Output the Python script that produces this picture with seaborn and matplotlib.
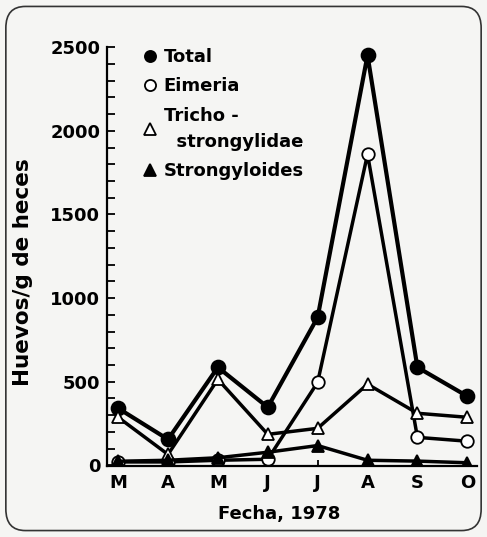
import matplotlib

matplotlib.use("Agg")
import matplotlib.pyplot as plt
from matplotlib.patches import FancyBboxPatch
from matplotlib.ticker import MultipleLocator
import numpy as np
import pandas as pd
import seaborn as sns

# months of sampling, 1978
months = ["M", "A", "M", "J", "J", "A", "S", "O"]
total = [341, 155, 586, 347, 885, 2452, 586, 413]
eimeria = [20, 20, 30, 36, 496, 1860, 167, 144]
tricho = [287, 65, 514, 185, 221, 485, 311, 287]
strongyloides = [24, 30, 45, 78, 118, 30, 25, 15]

sns.set_theme(style="white")
plt.rcParams["font.family"] = ["DejaVu Sans"]
plt.rcParams["font.weight"] = "bold"
plt.rcParams["text.color"] = "black"
plt.rcParams["axes.labelcolor"] = "black"
plt.rcParams["xtick.color"] = "black"
plt.rcParams["ytick.color"] = "black"

bg = "#f5f5f3"
fig = plt.figure(figsize=(4.87, 5.37), dpi=100, facecolor=bg)
ax = fig.add_axes([0.22, 0.132, 0.76, 0.78])
ax.set_facecolor(bg)

x = np.arange(len(months))
series = [
    ("Total", total, "o", "black", 10, 3.0),
    ("Eimeria", eimeria, "o", "white", 9, 2.5),
    ("Tricho -\n  strongylidae", tricho, "^", "white", 9, 2.5),
    ("Strongyloides", strongyloides, "^", "black", 9, 2.5),
]
for name, vals, mk, fc, ms, lw in series:
    df = pd.DataFrame({"mes": x, "huevos": vals})
    sns.lineplot(data=df, x="mes", y="huevos", ax=ax, color="black", lw=lw,
                 marker=mk, markersize=ms, markerfacecolor=fc,
                 markeredgecolor="black", markeredgewidth=1.3, label=name)

ax.set_xlim(-0.22, 7.2)
ax.set_ylim(-5, 2500)
ax.set_xticks(x)
ax.set_xticklabels(months)
ax.yaxis.set_major_locator(MultipleLocator(500))
ax.yaxis.set_minor_locator(MultipleLocator(100))
ax.tick_params(axis="y", which="both", direction="in", length=6, width=1.3,
               labelsize=13, pad=5, left=True)
ax.tick_params(axis="x", direction="in", length=4, width=1.3, labelsize=13,
               pad=6, bottom=True)
for lab in ax.get_xticklabels() + ax.get_yticklabels():
    lab.set_fontweight("bold")

for s in ["top", "right"]:
    ax.spines[s].set_visible(False)
for s in ["left", "bottom"]:
    ax.spines[s].set_linewidth(1.6)
    ax.spines[s].set_color("black")

ax.set_xlabel("Fecha, 1978", fontsize=13, fontweight="bold")
ax.set_ylabel("Huevos/g de heces", fontsize=15.5, fontweight="bold")
ax.xaxis.set_label_coords(0.465, -0.092)
ax.yaxis.set_label_coords(-0.2, 0.463)

leg = ax.legend(loc="upper left", bbox_to_anchor=(0.08, 1.015), frameon=False,
                fontsize=13, handlelength=0.7, handletextpad=0.4,
                labelspacing=0.62, borderaxespad=0)
for line in leg.get_lines():
    line.set_linestyle("none")
    line.set_markersize(8)
for t in leg.get_texts():
    t.set_linespacing(1.6)

border = FancyBboxPatch((0.012, 0.012), 0.976, 0.976, transform=fig.transFigure,
                        boxstyle="round,pad=0,rounding_size=0.04",
                        facecolor="none", edgecolor="#333333", lw=1.2)
fig.patches.append(border)

fig.savefig("out.png", dpi=100, facecolor=bg)
